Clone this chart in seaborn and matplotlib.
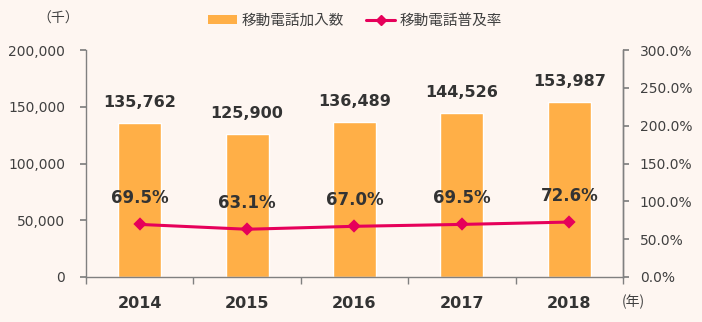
import matplotlib
matplotlib.use("Agg")
import matplotlib.pyplot as plt
import seaborn as sns
import numpy as np
import pandas as pd
from matplotlib.lines import Line2D
from matplotlib.patches import Patch

years = ["2014", "2015", "2016", "2017", "2018"]
subscribers = [135762, 125900, 136489, 144526, 153987]
penetration = [69.5, 63.1, 67.0, 69.5, 72.6]
left_ticks = [0, 50000, 100000, 150000, 200000]
right_ticks = [0, 50, 100, 150, 200, 250, 300]

sns.set_theme(style="white")
plt.rcParams['font.family'] = ['DejaVu Sans', 'Noto Sans CJK JP']

bg = "#FEF6F1"
bar_c = "#FFAF47"
line_c = "#E6005A"
txt_c = "#404040"
spine_c = "#808080"

fig = plt.figure(figsize=(7.02, 3.22), dpi=100, facecolor=bg)
ax = fig.add_axes([86/702, 45/322, (623-86)/702, (277-50)/322])
ax.set_facecolor(bg)

df = pd.DataFrame({"year": years, "subs": subscribers, "rate": penetration})
sns.barplot(data=df, x="year", y="subs", color=bar_c, width=0.4, ax=ax, saturation=1)
ax.set_ylim(0, 200000)
ax.set_xlim(-0.5, len(years) - 0.5)
ax.set_yticks(left_ticks)
ax.set_yticklabels([f"{v:,}" for v in left_ticks], color=txt_c, fontsize=10)
ax.set_xlabel("")
ax.set_ylabel("")

for i, v in enumerate(subscribers):
    ax.text(i, v + 14000, f"{v:,}", ha="center", va="baseline", fontsize=11.5,
            fontweight="bold", color="#333333")

ax2 = ax.twinx()
sns.pointplot(data=df, x="year", y="rate", color=line_c, markers="D",
              ax=ax2, markersize=5, linewidth=2.2)
ax2.set_ylim(0, 300)
ax2.set_xlim(-0.5, len(years) - 0.5)
ax2.set_yticks(right_ticks)
ax2.set_yticklabels([f"{v:.1f}%" for v in right_ticks], color=txt_c, fontsize=10)
ax2.set_ylabel("")
ax2.set_xlabel("")
for i, v in enumerate(penetration):
    ax2.text(i, v + 28, f"{v:.1f}%", ha="center", va="baseline", fontsize=12,
             fontweight="bold", color="#333333")

# x ticks: boundaries as ticks, labels at centers
bounds = np.arange(-0.5, len(years), 1.0)
ax.set_xticks(bounds)
ax.set_xticklabels([""] * len(bounds))
ax.set_xticks(np.arange(len(years)), minor=True)
ax.set_xticklabels(years, minor=True, fontsize=11.5, fontweight="bold", color="#333333")
ax.tick_params(axis="x", which="major", direction="out", length=5, color=spine_c, width=1, bottom=True)
ax.tick_params(axis="x", which="minor", length=0, pad=14)
ax.tick_params(axis="y", direction="out", length=4, color=spine_c, left=True, pad=11)
ax2.tick_params(axis="y", direction="out", length=4, color=spine_c, right=True, pad=8)

for a in (ax, ax2):
    a.spines["top"].set_visible(False)
    for s in ("left", "right", "bottom"):
        a.spines[s].set_color(spine_c)
        a.spines[s].set_linewidth(1)
ax2.spines["left"].set_visible(False)
ax2.spines["bottom"].set_visible(False)

handles = [Patch(facecolor=bar_c, edgecolor="none"),
           Line2D([0], [0], color=line_c, lw=2.2, marker="D", markersize=5)]
fig.legend(handles, ["移動電話加入数", "移動電話普及率"], loc="center",
           bbox_to_anchor=(355/702, 1 - 20/322), ncol=2, frameon=False,
           fontsize=10.5, handlelength=2.0, handleheight=0.6, columnspacing=1.5,
           handletextpad=0.3, labelcolor=txt_c)

fig.text(58/702, 1 - 19/322, "（千）", ha="center", va="center", fontsize=10,
         color=txt_c, family=['Noto Sans CJK JP'])
fig.text(633/702, 1 - 302/322, "(年)", ha="center", va="center", fontsize=10,
         color=txt_c, family=['Noto Sans CJK JP'])

fig.savefig("out.png", dpi=100, facecolor=bg)
